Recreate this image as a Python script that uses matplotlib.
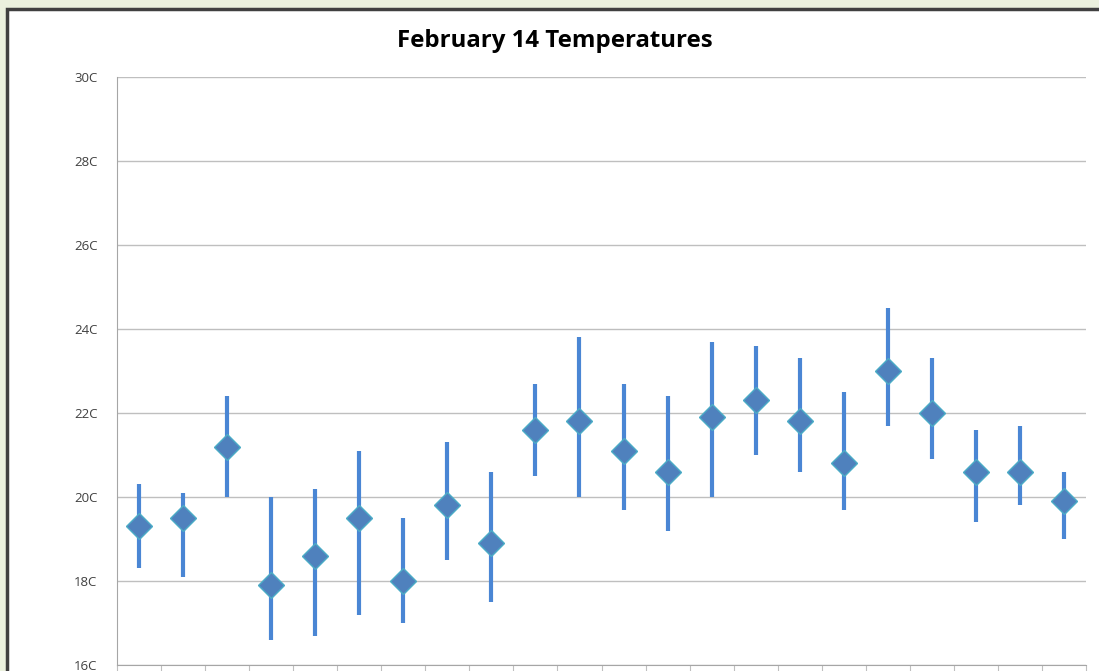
import matplotlib.pyplot as plt
from matplotlib.patches import Rectangle

# data (degrees C)
days = list(range(1, 23))
mid = [19.3, 19.5, 21.2, 17.9, 18.6, 19.5, 18.0, 19.8, 18.9, 21.6, 21.8,
       21.1, 20.6, 21.9, 22.3, 21.8, 20.8, 23.0, 22.0, 20.6, 20.6, 19.9]
high = [20.3, 20.1, 22.4, 20.0, 20.2, 21.1, 19.5, 21.3, 20.6, 22.7, 23.8,
        22.7, 22.4, 23.7, 23.6, 23.3, 22.5, 24.5, 23.3, 21.6, 21.7, 20.6]
low = [18.3, 18.1, 20.0, 16.6, 16.7, 17.2, 17.0, 18.5, 17.5, 20.5, 20.0,
       19.7, 19.2, 20.0, 21.0, 20.6, 19.7, 21.7, 20.9, 19.4, 19.8, 19.0]
yticks = [16, 18, 20, 22, 24, 26, 28, 30]
ylabels = [f"{t}C" for t in yticks]

W, H = 1099, 671
fig = plt.figure(figsize=(W / 100, H / 100), dpi=100)
fig.patch.set_facecolor('#EBF1DE')

# chart area frame (cropped at right and bottom)
frame = Rectangle((7 / W, -0.1), 1.2, (H - 9) / H + 0.1,
                  transform=fig.transFigure, facecolor='white',
                  edgecolor='#404040', linewidth=2.5, zorder=-10)
fig.patches.append(frame)

ax = fig.add_axes([117 / W, (H - 665) / H, (1086 - 117) / W, 588 / H])
ax.set_facecolor('white')

# high-low lines and the mid value markers
ax.vlines(days, low, high, color='#4A86D4', linewidth=3, zorder=3)
ax.plot(days, mid, linestyle='none', marker='D', markersize=13,
        markerfacecolor='#4F81BD', markeredgecolor='#4BACC6',
        markeredgewidth=1, zorder=4)

ax.set_xlim(0.5, 22.5)
ax.set_ylim(16, 30)
ax.set_yticks(yticks)
ax.set_yticklabels(ylabels, fontsize=9.5, color='#404040', family='Open Sans')
ax.yaxis.grid(True, color='#BFBFBF', linewidth=1)
ax.set_axisbelow(True)

ax.set_xticks([i + 0.5 for i in range(0, 23)])
ax.set_xticklabels([])
ax.tick_params(axis='x', length=8, color='#BFBFBF', direction='out')
ax.tick_params(axis='y', length=0, pad=14)

for s in ['top', 'right']:
    ax.spines[s].set_visible(False)
for s in ['left', 'bottom']:
    ax.spines[s].set_color('#A6A6A6')

fig.text(555 / W, 1 - 41 / H, 'February 14 Temperatures', ha='center',
         va='center', fontsize=17.3, fontweight='bold', family='Open Sans')

fig.savefig('out.png', dpi=100, facecolor=fig.get_facecolor())
